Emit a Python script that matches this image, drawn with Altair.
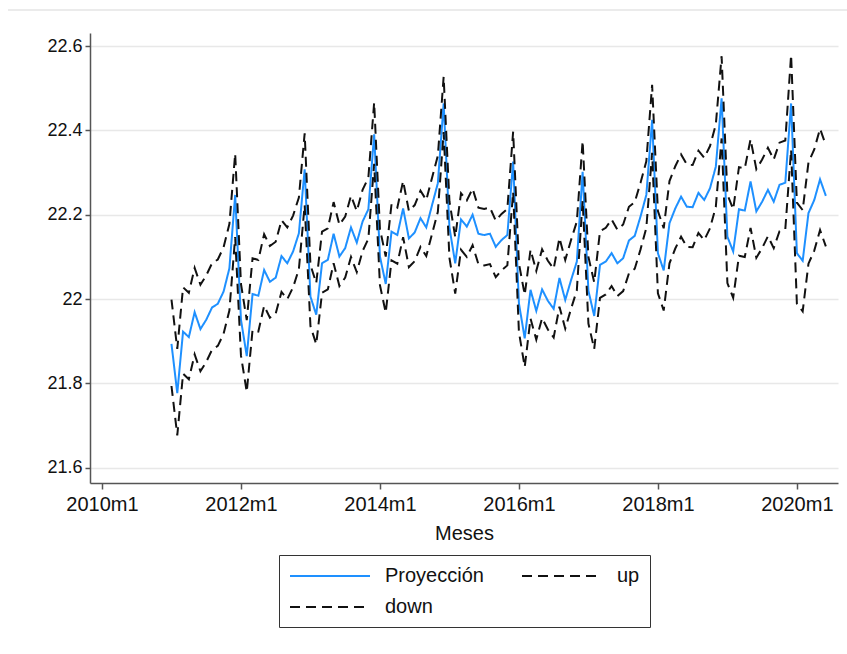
import altair as alt
import pandas as pd

# Month index counted from 2010m1 (= 0); the series run from 2011m1 to 2020m6
start_month = 12

proyeccion = [
    21.894, 21.777, 21.923, 21.910, 21.969, 21.929, 21.951, 21.980, 21.989, 22.018, 22.073, 22.247,
    21.951, 21.865, 22.012, 22.008, 22.069, 22.041, 22.051, 22.102, 22.085, 22.113, 22.156, 22.308,
    22.006, 21.963, 22.085, 22.093, 22.155, 22.101, 22.121, 22.170, 22.134, 22.184, 22.213, 22.391,
    22.101, 22.036, 22.160, 22.152, 22.215, 22.144, 22.158, 22.192, 22.170, 22.223, 22.275, 22.464,
    22.170, 22.085, 22.189, 22.172, 22.200, 22.155, 22.152, 22.155, 22.124, 22.140, 22.152, 22.326,
    21.990, 21.907, 22.022, 21.972, 22.023, 21.996, 21.977, 22.050, 21.998, 22.045, 22.089, 22.302,
    22.020, 21.960, 22.081, 22.089, 22.109, 22.085, 22.097, 22.139, 22.150, 22.196, 22.247, 22.425,
    22.109, 22.068, 22.180, 22.215, 22.243, 22.219, 22.218, 22.252, 22.235, 22.263, 22.314, 22.476,
    22.148, 22.113, 22.213, 22.210, 22.279, 22.208, 22.231, 22.259, 22.231, 22.271, 22.276, 22.464,
    22.109, 22.091, 22.204, 22.235, 22.284, 22.245,
]

up = [
    21.999, 21.882, 22.028, 22.015, 22.074, 22.034, 22.056, 22.085, 22.094, 22.123, 22.178, 22.345,
    22.036, 21.950, 22.097, 22.093, 22.154, 22.126, 22.136, 22.187, 22.170, 22.198, 22.241, 22.393,
    22.081, 22.038, 22.160, 22.168, 22.230, 22.176, 22.196, 22.245, 22.209, 22.259, 22.288, 22.466,
    22.166, 22.101, 22.225, 22.217, 22.280, 22.209, 22.223, 22.257, 22.235, 22.288, 22.340, 22.527,
    22.232, 22.147, 22.251, 22.234, 22.262, 22.217, 22.214, 22.217, 22.186, 22.202, 22.214, 22.397,
    22.085, 22.010, 22.117, 22.067, 22.118, 22.091, 22.072, 22.145, 22.093, 22.140, 22.184, 22.375,
    22.100, 22.040, 22.161, 22.169, 22.189, 22.165, 22.177, 22.219, 22.230, 22.276, 22.327, 22.508,
    22.209, 22.168, 22.280, 22.315, 22.343, 22.319, 22.318, 22.352, 22.335, 22.363, 22.414, 22.576,
    22.248, 22.213, 22.313, 22.310, 22.379, 22.308, 22.331, 22.359, 22.331, 22.371, 22.376, 22.579,
    22.229, 22.211, 22.324, 22.355, 22.404, 22.365,
]

down = [
    21.794, 21.677, 21.823, 21.810, 21.869, 21.829, 21.851, 21.880, 21.889, 21.918, 21.973, 22.147,
    21.866, 21.780, 21.927, 21.923, 21.984, 21.956, 21.966, 22.017, 22.000, 22.028, 22.071, 22.223,
    21.936, 21.893, 22.015, 22.023, 22.085, 22.031, 22.051, 22.100, 22.064, 22.114, 22.143, 22.321,
    22.033, 21.968, 22.092, 22.084, 22.147, 22.076, 22.090, 22.124, 22.102, 22.155, 22.207, 22.396,
    22.098, 22.013, 22.117, 22.100, 22.128, 22.083, 22.080, 22.083, 22.052, 22.068, 22.080, 22.254,
    21.922, 21.839, 21.954, 21.904, 21.955, 21.928, 21.909, 21.982, 21.930, 21.977, 22.021, 22.234,
    21.942, 21.882, 22.003, 22.011, 22.031, 22.007, 22.019, 22.061, 22.072, 22.118, 22.169, 22.347,
    22.014, 21.973, 22.085, 22.120, 22.148, 22.124, 22.123, 22.157, 22.140, 22.168, 22.219, 22.381,
    22.038, 22.003, 22.103, 22.100, 22.169, 22.098, 22.121, 22.149, 22.121, 22.161, 22.166, 22.354,
    21.989, 21.971, 22.084, 22.115, 22.164, 22.125,
]

# legend entries fill column by column: Proyección / down in the first
# column, up in the second
series_names = ["Proyección", "down", "up"]
series_values = [proyeccion, down, up]
series_colors = ["#1E90FF", "#111111", "#111111"]
series_dashes = [[1, 0], [10, 6], [10, 6]]

x_ticks = [0, 24, 48, 72, 96, 120]          # 2010m1 ... 2020m1
y_ticks = [21.6, 21.8, 22.0, 22.2, 22.4, 22.6]

rows = []
for name, values in zip(series_names, series_values):
    for i, v in enumerate(values):
        rows.append({"mes": start_month + i, "valor": v, "serie": name})
df = pd.DataFrame(rows)

FONT = "Liberation Sans"

# long, flat legend key drawn to the right of the entry origin
legend_opts = dict(
    title=None,
    orient="none",
    legendX=189,
    legendY=522,
    columns=2,
    columnPadding=34,
    rowPadding=10,
    padding=10,
    strokeColor="#333333",
    symbolType="M-1,0H7",
    symbolSize=400,
    symbolStrokeWidth=2,
    labelFont=FONT,
    labelFontSize=20,
    labelColor="#111111",
    labelOffset=74,
)

lines = alt.Chart(df).mark_line(strokeWidth=2).encode(
    x=alt.X(
        "mes:Q",
        scale=alt.Scale(domain=[-2.07, 127.1], nice=False, zero=False),
        axis=alt.Axis(
            values=x_ticks,
            labelExpr="floor(datum.value / 12) + 2010 + 'm1'",
            title="Meses",
            grid=False,
            tickSize=6,
            labelFontSize=20,
            labelPadding=5,
            titlePadding=9,
            labelFlush=False,
        ),
    ),
    y=alt.Y(
        "valor:Q",
        scale=alt.Scale(domain=[21.564, 22.631], nice=False, zero=False),
        axis=alt.Axis(
            values=y_ticks,
            format=".3~g",
            title=None,
            grid=True,
            tickSize=5,
            labelFontSize=18,
            labelPadding=3,
        ),
    ),
    color=alt.Color(
        "serie:N",
        scale=alt.Scale(domain=series_names, range=series_colors),
        legend=alt.Legend(**legend_opts),
    ),
    strokeDash=alt.StrokeDash(
        "serie:N",
        scale=alt.Scale(domain=series_names, range=series_dashes),
        legend=alt.Legend(**legend_opts),
    ),
)

# thin frame line across the top of the graph region
top_line = alt.Chart(pd.DataFrame({"k": [0]})).mark_rule(
    color="#ebebeb", strokeWidth=2
).encode(x=alt.value(-82), x2=alt.value(757), y=alt.value(-23))

chart = alt.layer(top_line, lines).properties(
    width=748,
    height=450,
    autosize=alt.AutoSizeParams(type="none"),
    padding={"left": 90, "top": 33, "right": 9, "bottom": 171},
    background="white",
).configure_view(
    stroke=None
).configure_axis(
    domainColor="#555555",
    domainWidth=1.5,
    tickColor="#555555",
    tickWidth=1.5,
    gridColor="#e8e8e8",
    gridWidth=1.5,
    labelFont=FONT,
    labelColor="#111111",
    titleFont=FONT,
    titleFontSize=20,
    titleFontWeight="normal",
    titleColor="#111111",
)

chart.save("out.html", embed_options={"renderer": "svg", "actions": False})
